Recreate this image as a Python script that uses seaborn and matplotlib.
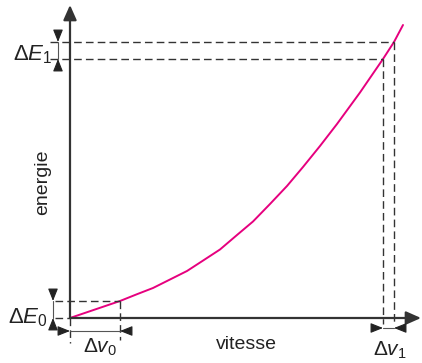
import pandas as pd
import matplotlib
matplotlib.use('Agg')
import matplotlib.pyplot as plt
import seaborn as sns

# curve (vitesse, energie in arbitrary units)
vitesse = [0, 25, 50, 67, 83, 100, 117, 133, 150, 167, 183, 200, 217, 233, 250,
           267, 290, 313, 324, 333]
energie = [0, 8.5, 17, 23.8, 30, 38.5, 47, 57.4, 68.5, 83, 96.5, 114, 132, 151, 172,
           194, 225.5, 259, 276, 293]

# the two intervals that get marked
dv0 = (0, 50)
dE0 = (0, 17)
dv1 = (313, 324)
dE1 = (259, 276)

# axis extents
v_max = 351
E_max = 313

sns.set_theme(style='white')
plt.rcParams['font.family'] = ['Liberation Sans', 'DejaVu Sans']
plt.rcParams['mathtext.fontset'] = 'custom'
plt.rcParams['mathtext.rm'] = 'Liberation Sans'
plt.rcParams['mathtext.it'] = 'Liberation Sans:italic'

axis_col = '#333333'
dash_col = '#333333'
curve_col = '#e6007e'

fig = plt.figure(figsize=(4.22, 3.63), dpi=100)
ax = fig.add_axes([0, 0, 1, 1])
ax.set_xlim(-70, 352)
ax.set_ylim(-45, 318)
ax.axis('off')

df = pd.DataFrame({'vitesse': vitesse, 'energie': energie})
sns.lineplot(data=df, x='vitesse', y='energie', sort=False, estimator=None,
             color=curve_col, lw=1.4, ax=ax)

# axes with arrow heads
head = dict(arrowstyle='-|>,head_length=0.9,head_width=0.4', color=axis_col,
            lw=1.6, shrinkA=0, shrinkB=0, mutation_scale=10)
ax.annotate('', xy=(0, E_max), xytext=(0, 0), arrowprops=head)
ax.annotate('', xy=(v_max, 0), xytext=(0, 0), arrowprops=head)

dash = dict(color=dash_col, lw=1.0, dashes=(5.5, 3))

# guide lines for the high interval
ax.plot([-20, dv1[1]], [dE1[1], dE1[1]], **dash)
ax.plot([-20, dv1[0]], [dE1[0], dE1[0]], **dash)
ax.plot([dv1[0], dv1[0]], [dE1[0], -6], **dash)
ax.plot([dv1[1], dv1[1]], [dE1[1], -6], **dash)

# guide lines for the low interval
ax.plot([-15, dv0[1]], [dE0[1], dE0[1]], **dash)
ax.plot([-15, 0], [dE0[0], dE0[0]], **dash)
ax.plot([dv0[1], dv0[1]], [dE0[1], -22], **dash)
ax.plot([dv0[0], dv0[0]], [dE0[0], -25], **dash)


def dim_marker(a, b, pos, vertical):
    # thin line between two limits, triangles outside pointing inward
    tri = dict(arrowstyle='-|>,head_length=0.75,head_width=0.3', color='#222222',
               lw=0.8, shrinkA=0, shrinkB=0, mutation_scale=10)
    if vertical:
        ax.plot([pos, pos], [a, b], color='#555555', lw=0.8)
        ax.annotate('', xy=(pos, b), xytext=(pos, b + 10), arrowprops=tri)
        ax.annotate('', xy=(pos, a), xytext=(pos, a - 10), arrowprops=tri)
    else:
        ax.plot([a, b], [pos, pos], color='#555555', lw=0.8)
        ax.annotate('', xy=(a, pos), xytext=(a - 10, pos), arrowprops=tri)
        ax.annotate('', xy=(b, pos), xytext=(b + 10, pos), arrowprops=tri)


dim_marker(dE1[0], dE1[1], -12, True)
dim_marker(dE0[0], dE0[1], -17, True)
dim_marker(dv0[0], dv0[1], -13, False)
dim_marker(dv1[0], dv1[1], -10, False)

ax.text(-57, 258, r'$\Delta E_1$', fontsize=16, color='#222222', ha='left', va='baseline')
ax.text(-62, -5, r'$\Delta E_0$', fontsize=16, color='#222222', ha='left', va='baseline')
ax.text(13, -35, r'$\Delta v_0$', fontsize=15, color='#222222', ha='left', va='baseline')
ax.text(303, -38, r'$\Delta v_1$', fontsize=15, color='#222222', ha='left', va='baseline')

ax.text(176, -31, 'vitesse', fontsize=14, color='#222222', ha='center', va='baseline')
ax.text(-27, 136, 'energie', fontsize=14, color='#222222', ha='center', va='center',
        rotation=90)

fig.savefig('out.png', dpi=100)
